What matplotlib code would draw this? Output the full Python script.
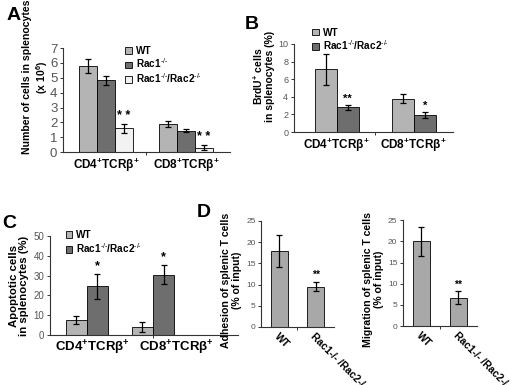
import numpy as np
import matplotlib
matplotlib.use("Agg")
import matplotlib.pyplot as plt

plt.rcParams['font.family'] = ['Liberation Sans', 'DejaVu Sans']
plt.rcParams['mathtext.fontset'] = 'custom'
plt.rcParams['mathtext.rm'] = 'Liberation Sans'
plt.rcParams['mathtext.bf'] = 'Liberation Sans:bold'
plt.rcParams['mathtext.it'] = 'Liberation Sans:italic'

# data
groups = [r"CD4$^{\mathbf{+}}$TCRβ$^{\mathbf{+}}$", r"CD8$^{\mathbf{+}}$TCRβ$^{\mathbf{+}}$"]

a_wt = [5.8, 1.9]
a_wt_err = [0.45, 0.2]
a_rac1 = [4.85, 1.45]
a_rac1_err = [0.3, 0.1]
a_dko = [1.6, 0.3]
a_dko_err = [0.3, 0.15]

b_wt = [7.1, 3.8]
b_wt_err = [1.8, 0.55]
b_dko = [2.8, 1.9]
b_dko_err = [0.3, 0.35]

c_wt = [7.5, 4.0]
c_wt_err = [2.0, 2.5]
c_dko = [24.5, 30.5]
c_dko_err = [6.3, 5.0]

d_labels = ["WT", "Rac1-/- /Rac2-/-"]
d_adhesion = [18.0, 9.5]
d_adhesion_err = [3.75, 1.1]
d_migration = [20.0, 6.7]
d_migration_err = [3.5, 1.5]

KO = r"$^{\text{-/-}}$"
lab_wt = "WT"
lab_rac1 = "Rac1" + KO
lab_dko = "Rac1" + KO + "/Rac2" + KO

WT_C = '#b4b4b4'
RAC1_C = '#6e6e6e'
DKO_C = '#f2f2f2'
DKO2_C = '#6e6e6e'
D_C = '#a8a8a8'
TICK_C = '#555555'

err_kw = dict(ecolor='black', elinewidth=0.9, capsize=2.5, capthick=0.9)
leg_kw = dict(frameon=False, prop={'weight': 'bold', 'size': 7.2}, handlelength=0.65,
              handleheight=0.65, handletextpad=0.4, labelspacing=0.08, borderaxespad=0)

fig = plt.figure(figsize=(5.2, 3.85), dpi=100)


def style_axes(ax, fs):
    ax.spines['top'].set_visible(False)
    ax.spines['right'].set_visible(False)
    ax.spines['left'].set_color('#333333')
    ax.spines['bottom'].set_color('#333333')
    ax.tick_params(axis='y', colors='#333333', labelcolor=TICK_C, labelsize=fs,
                   length=2.5, width=0.7, pad=1.5)
    ax.tick_params(axis='x', length=0, pad=3)
    ax.set_xticks([0.5], minor=True)
    ax.tick_params(axis='x', which='minor', length=2.5, width=0.7, colors='#333333')


def stars(ax, x, top, txt, fs):
    ax.text(x, top, txt, ha='center', va='bottom', fontsize=fs, fontweight='bold')


x = np.arange(len(groups))

# ---- A
axA = fig.add_axes([0.121, 0.605, 0.321, 0.270])
w = 0.225
axA.bar(x - w, a_wt, w, yerr=a_wt_err, color=WT_C, edgecolor='black', linewidth=0.6, error_kw=err_kw, label=lab_wt)
axA.bar(x, a_rac1, w, yerr=a_rac1_err, color=RAC1_C, edgecolor='black', linewidth=0.6, error_kw=err_kw,
        label=lab_rac1)
axA.bar(x + w, a_dko, w, yerr=a_dko_err, color=DKO_C, edgecolor='black', linewidth=0.6, error_kw=err_kw,
        label=lab_dko)
for i in range(2):
    stars(axA, x[i] + w, a_dko[i] + a_dko_err[i] + 0.15, '* *', 9)
axA.set_ylim(0, 7)
axA.set_yticks(range(8))
axA.set_xlim(-0.54, 1.55)
style_axes(axA, 9.5)
axA.set_xticks(x)
axA.set_xticklabels(groups, fontsize=8.5, fontweight='bold')
axA.set_ylabel("Number of cells in splenocytes\n" + r"(x 10$^{\mathbf{6}}$)", fontsize=7.6,
               fontweight='bold', labelpad=0, linespacing=1.15, y=0.72)
axA.legend(loc='upper left', bbox_to_anchor=(0.35, 1.06), **leg_kw)
fig.text(0.012, 0.982, 'A', fontsize=14, fontweight='bold', va='top')

# ---- B
axB = fig.add_axes([0.565, 0.657, 0.306, 0.229])
w = 0.286
axB.bar(x - w / 2, b_wt, w, yerr=b_wt_err, color=WT_C, edgecolor='black', linewidth=0.6, error_kw=err_kw, label=lab_wt)
axB.bar(x + w / 2, b_dko, w, yerr=b_dko_err, color=DKO2_C, edgecolor='black', linewidth=0.6, error_kw=err_kw,
        label=lab_dko)
stars(axB, x[0] + w / 2, b_dko[0] + b_dko_err[0] + 0.1, '**', 8)
stars(axB, x[1] + w / 2, b_dko[1] + b_dko_err[1] + 0.1, '*', 8)
axB.set_ylim(0, 10)
axB.set_yticks(range(0, 11, 2))
axB.set_xlim(-0.56, 1.51)
style_axes(axB, 6.5)
axB.set_xticks(x)
axB.set_xticklabels(groups, fontsize=8.5, fontweight='bold')
axB.set_ylabel(r"BrdU$^{\mathbf{+}}$ cells" + "\nin splenocytes (%)", fontsize=7.5,
               fontweight='bold', labelpad=2, linespacing=1.1, y=0.63)
axB.legend(loc='upper left', bbox_to_anchor=(0.09, 1.23), **leg_kw)
fig.text(0.471, 0.958, 'B', fontsize=14, fontweight='bold', va='top')

# ---- C
axC = fig.add_axes([0.096, 0.130, 0.362, 0.257])
w = 0.32
axC.bar(x - w / 2, c_wt, w, yerr=c_wt_err, color=WT_C, edgecolor='black', linewidth=0.6, error_kw=err_kw, label=lab_wt)
axC.bar(x + w / 2, c_dko, w, yerr=c_dko_err, color=DKO2_C, edgecolor='black', linewidth=0.6, error_kw=err_kw,
        label=lab_dko)
for i in range(2):
    stars(axC, x[i] + w / 2, c_dko[i] + c_dko_err[i] + 0.8, '*', 9)
axC.set_ylim(0, 50)
axC.set_yticks(range(0, 51, 10))
axC.set_xlim(-0.56, 2.29)
style_axes(axC, 7)
axC.set_xticks([0.09, 1.36])
axC.set_xticklabels(groups, fontsize=9.5, fontweight='bold')
axC.set_xticks([1.0], minor=True)
axC.set_ylabel("Apoptotic cells\nin splenocytes (%)", fontsize=8.2,
               fontweight='bold', labelpad=3, linespacing=1.1)
axC.legend(loc='upper left', bbox_to_anchor=(0.064, 1.1), **leg_kw)
fig.text(0.004, 0.442, 'C', fontsize=14, fontweight='bold', va='top')

# ---- D
fig.text(0.378, 0.47, 'D', fontsize=14, fontweight='bold', va='top')
d_sets = [
    ([0.502, 0.151, 0.140, 0.275], d_adhesion, d_adhesion_err, "Adhesion of splenic T cells\n(% of input)"),
    ([0.775, 0.153, 0.142, 0.275], d_migration, d_migration_err, "Migration of splenic T cells\n(% of input)"),
]
xd = np.arange(len(d_labels))
for rect, vals, errs, lab in d_sets:
    ax = fig.add_axes(rect)
    ax.bar(xd, vals, 0.46, yerr=errs, color=D_C, edgecolor='black', linewidth=0.6, error_kw=err_kw)
    stars(ax, xd[1], vals[1] + errs[1] + 0.4, '**', 7.5)
    ax.set_ylim(0, 25)
    ax.set_yticks(range(0, 26, 5))
    ax.set_xlim(-0.5, 1.5)
    style_axes(ax, 6)
    ax.set_xticks(xd)
    ax.set_xticklabels(d_labels, fontsize=7.5, fontweight='bold', rotation=-45,
                       ha='left', va='top', rotation_mode='anchor')
    ax.set_ylabel(lab, fontsize=7.6, fontweight='bold', labelpad=3, linespacing=1.1, y=0.44)

fig.savefig('out.png', dpi=100)
